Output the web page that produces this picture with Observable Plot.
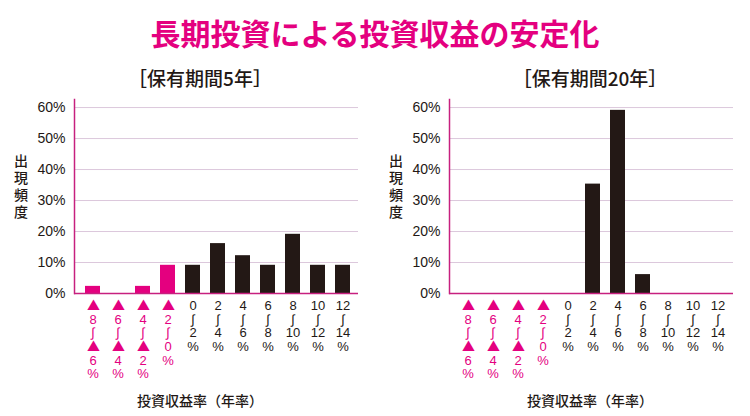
<!DOCTYPE html>
<html><head><meta charset="utf-8">
<script src="https://cdn.jsdelivr.net/npm/d3@7"></script>
<script src="https://cdn.jsdelivr.net/npm/@observablehq/plot@0.6"></script>
<style>
@font-face{font-family:"TriCJK";src:local("Noto Sans CJK JP"),local("NotoSansCJKjp-Regular"),local("Noto Sans CJK JP Regular");unicode-range:U+25B2;}
body{margin:0;background:#fff;}
#wrap{position:relative;width:750px;height:416px;overflow:hidden;font-family:"Liberation Sans","Noto Sans CJK JP",sans-serif;color:#231815;}
#title{position:absolute;left:0;top:12px;width:750px;text-align:center;font-family:"Noto Sans CJK JP",sans-serif;font-weight:bold;font-size:30px;line-height:40px;color:#e4007f;}
.panel{position:absolute;top:60px;width:375px;height:356px;}
.sub{position:absolute;top:5px;width:300px;text-align:center;font-family:"Noto Sans CJK JP",sans-serif;font-size:19px;font-weight:500;line-height:26px;color:#231815;}
.ytitle{position:absolute;left:13px;top:94px;width:16px;writing-mode:vertical-rl;text-orientation:upright;letter-spacing:3px;font-family:"Noto Sans CJK JP",sans-serif;font-size:14px;line-height:16px;font-weight:500;}
.xtitle{position:absolute;top:330px;width:300px;text-align:center;font-family:"Noto Sans CJK JP",sans-serif;font-size:14px;line-height:20px;font-weight:500;}
.panel svg{position:absolute;left:0;top:0;}
</style></head>
<body>
<div id="wrap">
  <div id="title"></div>
</div>
<script>
const mainTitle = "長期投資による投資収益の安定化";
const panelTitles = ["［保有期間5年］", "［保有期間20年］"];
const yTitle = "出現頻度";
const xTitle = "投資収益率（年率）";
const categories = ["▲8〜▲6%","▲6〜▲4%","▲4〜▲2%","▲2〜0%","0〜2%","2〜4%","4〜6%","6〜8%","8〜10%","10〜12%","12〜14%"];
const tickLabels = [
  "▲\n8\n∫\n▲\n6\n%", "▲\n6\n∫\n▲\n4\n%", "▲\n4\n∫\n▲\n2\n%", "▲\n2\n∫\n0\n%",
  "0\n∫\n2\n%", "2\n∫\n4\n%", "4\n∫\n6\n%", "6\n∫\n8\n%", "8\n∫\n10\n%", "10\n∫\n12\n%", "12\n∫\n14\n%"
];
const values5yr = [2.3, 0, 2.3, 9.1, 9.1, 16.1, 12.2, 9.1, 19.1, 9.1, 9.1];
const values20yr = [0, 0, 0, 0, 0, 35.3, 59.1, 6.1, 0, 0, 0];
const yTicks = [0, 10, 20, 30, 40, 50, 60];

const MAGENTA = "#e4007f";
const BLACK = "#231815";
const AXIS = "#c7207f";
const GRID = "#dcc8dc";
const TICKFONT = '"TriCJK","Liberation Sans","Noto Sans CJK JP",sans-serif';

document.getElementById("title").textContent = mainTitle;
const wrap = document.getElementById("wrap");
const negCats = categories.filter(c => c.startsWith("▲"));
const posCats = categories.filter(c => !c.startsWith("▲"));
const labelOf = new Map(categories.map((c, i) => [c, tickLabels[i]]));

function panel(values, idx, centerX) {
  const data = categories.map((c, i) => ({cat: c, value: values[i], neg: c.startsWith("▲")}));
  const div = document.createElement("div");
  div.className = "panel";
  div.style.left = (idx * 375) + "px";
  wrap.appendChild(div);

  const sub = document.createElement("div");
  sub.className = "sub";
  sub.style.left = (centerX - 150) + "px";
  sub.textContent = panelTitles[idx];
  div.appendChild(sub);

  const yt = document.createElement("div");
  yt.className = "ytitle";
  yt.textContent = yTitle;
  div.appendChild(yt);

  const xt = document.createElement("div");
  xt.className = "xtitle";
  xt.style.left = (centerX - 150) + "px";
  xt.textContent = xTitle;
  div.appendChild(xt);

  const chart = Plot.plot({
    width: 375,
    height: 356,
    marginTop: 39,
    marginBottom: 123,
    marginLeft: 74,
    marginRight: 14,
    style: {fontFamily: TICKFONT, background: "transparent", overflow: "visible"},
    x: {domain: categories, paddingInner: 0.42, paddingOuter: 0.43, axis: null},
    y: {domain: [0, 62.6], axis: null},
    marks: [
      Plot.gridY(yTicks.filter(d => d > 0), {stroke: GRID, strokeOpacity: 1, strokeWidth: 1, insetRight: 3}),
      Plot.barY(data.filter(d => d.neg), {x: "cat", y: "value", fill: MAGENTA}),
      Plot.barY(data.filter(d => !d.neg), {x: "cat", y: "value", fill: BLACK}),
      Plot.frame({anchor: "left", stroke: AXIS, strokeWidth: 1.5}),
      Plot.ruleY([0], {stroke: AXIS, strokeWidth: 1.5, insetRight: 3}),
      Plot.axisY({ticks: yTicks, tickFormat: d => d + "%", tickSize: 0, tickPadding: 9, fontSize: 14, fill: BLACK, label: null}),
      Plot.axisX({ticks: negCats, tickFormat: d => labelOf.get(d), tickSize: 0, tickPadding: 7, fontSize: 13, lineHeight: 1.05, fill: MAGENTA, label: null}),
      Plot.axisX({ticks: posCats, tickFormat: d => labelOf.get(d), tickSize: 0, tickPadding: 7, fontSize: 13, lineHeight: 1.05, fill: BLACK, label: null})
    ]
  });
  div.appendChild(chart);
}

panel(values5yr, 0, 200);
panel(values20yr, 1, 215);
</script>
</body></html>
